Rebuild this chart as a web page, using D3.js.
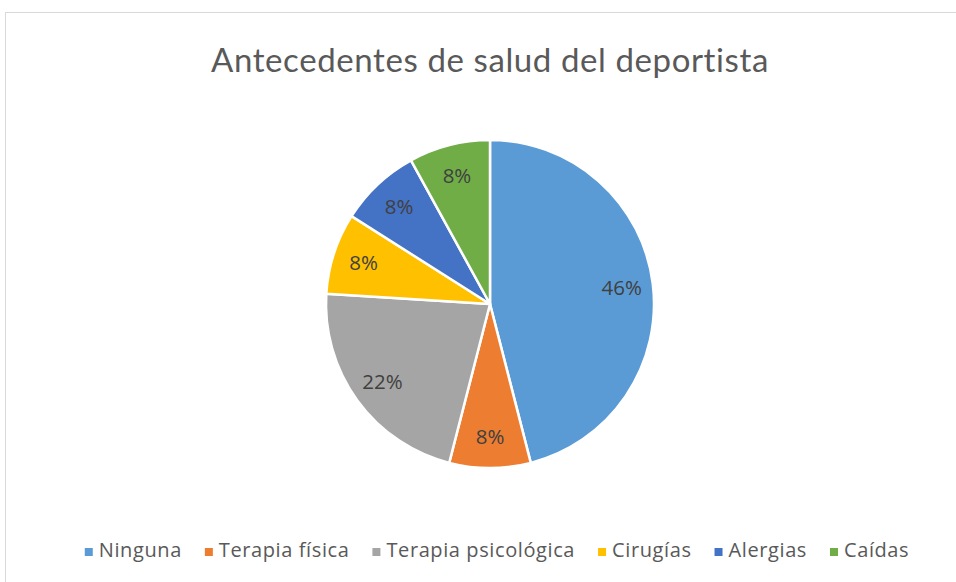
<!DOCTYPE html>
<html>
<head>
<meta charset="utf-8">
<script src="https://cdn.jsdelivr.net/npm/d3@7"></script>
<style>
  body { margin: 0; background: #fff; }
  svg { display: block; }
</style>
</head>
<body>
<div class="chart"></div>
<script>
// datos
const categories = ['Ninguna', 'Terapia física', 'Terapia psicológica', 'Cirugías', 'Alergias', 'Caídas'];
const values = [46, 8, 22, 8, 8, 8];
const colors = ['#5B9BD5', '#ED7D31', '#A5A5A5', '#FFC000', '#4472C4', '#70AD47'];
const title = 'Antecedentes de salud del deportista';

const width = 956;
const height = 582;
const cx = 490, cy = 304, radius = 164;
const font = 'Lato, "Open Sans", sans-serif';
const legendFont = '"Open Sans", Lato, sans-serif';

const svg = d3.select('.chart').append('svg')
  .attr('width', width).attr('height', height);

// marco del area del grafico
svg.append('rect')
  .attr('x', 5.5).attr('y', 12.5)
  .attr('width', width + 10).attr('height', height + 10)
  .attr('fill', '#fff')
  .attr('stroke', '#d9d9d9')
  .attr('stroke-width', 1);

svg.append('text')
  .attr('x', cx).attr('y', 72)
  .attr('text-anchor', 'middle')
  .attr('font-family', font)
  .attr('font-size', 33)
  .attr('fill', '#595959')
  .attr('letter-spacing', 0.6)
  .text(title);

const data = categories.map((c, i) => ({name: c, value: values[i], color: colors[i]}));
const pie = d3.pie().value(d => d.value).sort(null);
const arc = d3.arc().innerRadius(0).outerRadius(radius);
const labelArc = d3.arc().innerRadius(radius * 0.81).outerRadius(radius * 0.81);
const total = d3.sum(values);

const g = svg.append('g').attr('transform', `translate(${cx},${cy})`);
const arcs = pie(data);

g.selectAll('.slice').data(arcs).enter()
  .append('path')
  .attr('class', 'slice')
  .attr('d', arc)
  .attr('fill', d => d.data.color)
  .attr('stroke', '#fff')
  .attr('stroke-width', 2.5)
  .attr('stroke-linejoin', 'round');

g.selectAll('.label').data(arcs).enter()
  .append('text')
  .attr('class', 'label')
  .attr('transform', d => `translate(${labelArc.centroid(d)})`)
  .attr('text-anchor', 'middle')
  .attr('dy', '0.35em')
  .attr('font-family', legendFont)
  .attr('font-size', 20.5)
  .attr('fill', '#404040')
  .text(d => Math.round(d.data.value / total * 100) + '%');

// leyenda
const legend = svg.append('g');
const items = legend.selectAll('.item').data(data).enter()
  .append('g').attr('class', 'item');
items.append('rect')
  .attr('width', 8).attr('height', 8)
  .attr('y', -9)
  .attr('fill', d => d.color);
items.append('text')
  .attr('x', 14)
  .attr('font-family', legendFont)
  .attr('font-size', 20)
  .attr('letter-spacing', 0.6)
  .attr('fill', '#595959')
  .text(d => d.name);

let xPos = 0;
items.each(function() {
  const w = this.getBBox().width;
  d3.select(this).attr('transform', `translate(${xPos},0)`);
  xPos += w + 23;
});
const legendWidth = xPos - 23;
legend.attr('transform', `translate(${cx - legendWidth / 2 + 7},557)`);
</script>
</body>
</html>
